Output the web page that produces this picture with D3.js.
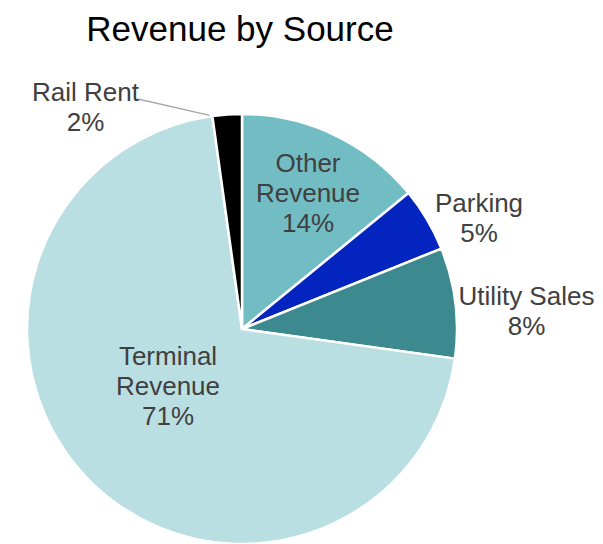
<!DOCTYPE html>
<html>
<head>
<meta charset="utf-8">
<script src="https://cdn.jsdelivr.net/npm/d3@7"></script>
<style>
html,body{margin:0;padding:0;background:#fff;}
svg{display:block;}
</style>
</head>
<body>
<svg id="chart" width="603" height="544"></svg>
<script>
// ---- data ----
const categories = ["Other Revenue", "Parking", "Utility Sales", "Terminal Revenue", "Rail Rent"];
const values = [14.1, 4.8, 8.3, 70.6, 2.2];
const percentLabels = ["14%", "5%", "8%", "71%", "2%"];
const labelLines = [["Other", "Revenue"], ["Parking"], ["Utility Sales"], ["Terminal", "Revenue"], ["Rail Rent"]];
const colors = ["#72BDC4", "#0424BF", "#3C8A90", "#BADFE3", "#000000"];
const title = "Revenue by Source";

// ---- layout ----
const W = 603, H = 544;
const cx = 242, cy = 329, R = 215;
const font = "'Liberation Sans', Arial, sans-serif";
const labelPos = {
  "Other Revenue": [308, 171.7],
  "Parking": [479, 211.7],
  "Utility Sales": [526.5, 305],
  "Terminal Revenue": [168, 365],
  "Rail Rent": [85.5, 100.7]
};

const svg = d3.select("#chart");

svg.append("text")
  .attr("x", 240).attr("y", 41)
  .attr("text-anchor", "middle")
  .attr("font-family", font)
  .attr("font-size", 35)
  .attr("fill", "#000")
  .text(title);

const data = categories.map((c, i) => ({cat: c, value: values[i], pct: percentLabels[i], lines: labelLines[i], color: colors[i]}));

const pie = d3.pie().value(d => d.value).sort(null);
const arc = d3.arc().innerRadius(0).outerRadius(R);
const arcs = pie(data);

const g = svg.append("g").attr("transform", `translate(${cx},${cy})`);
g.selectAll("path").data(arcs).join("path")
  .attr("d", arc)
  .attr("fill", d => d.data.color)
  .attr("stroke", "#fff")
  .attr("stroke-width", 2.5)
  .attr("stroke-linejoin", "round");

// leader line for Rail Rent
const rail = arcs[4];
const leaderAngle = rail.startAngle - 0.012;
const lx = cx + (R + 1) * Math.sin(leaderAngle);
const ly = cy - (R + 1) * Math.cos(leaderAngle);
svg.append("line")
  .attr("x1", 138).attr("y1", 99)
  .attr("x2", lx).attr("y2", ly)
  .attr("stroke", "#A6A6A6")
  .attr("stroke-width", 1.3);

// labels
const lineH = 30;
arcs.forEach(a => {
  const [x, y] = labelPos[a.data.cat];
  const t = svg.append("text")
    .attr("text-anchor", "middle")
    .attr("font-family", font)
    .attr("font-size", 26)
    .attr("fill", "#404040");
  const lines = a.data.lines.concat([a.data.pct]);
  lines.forEach((ln, i) => {
    t.append("tspan").attr("x", x).attr("y", y + i * lineH).text(ln);
  });
});
</script>
</body>
</html>
